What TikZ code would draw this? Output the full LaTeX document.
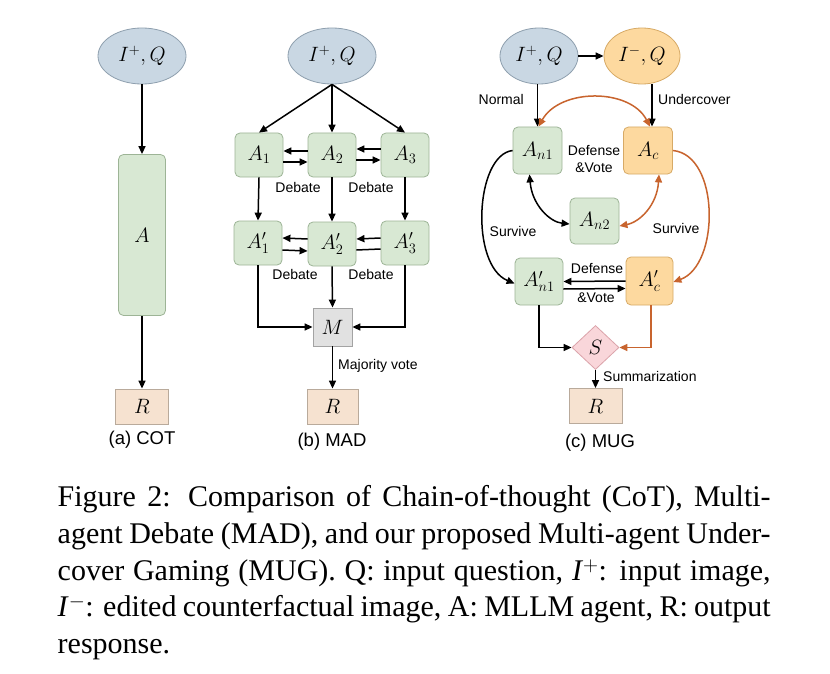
\documentclass[tikz,border=0pt]{standalone}
\usepackage{fontspec}
\setmainfont{Liberation Serif}
\setsansfont{Liberation Sans}
\usetikzlibrary{shapes.geometric,arrows.meta,calc}
\definecolor{bluefill}{HTML}{C9D7E3}
\definecolor{blueline}{HTML}{8E9FAE}
\definecolor{greenfill}{HTML}{D8E8D3}
\definecolor{greenline}{HTML}{9DB496}
\definecolor{orangefill}{HTML}{FDD99F}
\definecolor{orangeline}{HTML}{D7AA66}
\definecolor{pinkfill}{HTML}{F9D6DA}
\definecolor{pinkline}{HTML}{DBA3AA}
\definecolor{peachfill}{HTML}{F6E2D0}
\definecolor{peachline}{HTML}{B9AA9B}
\definecolor{grayfill}{HTML}{E1E1E1}
\definecolor{grayline}{HTML}{A3A3A3}
\definecolor{rust}{HTML}{C8642E}
\tikzset{
  mathfont/.style={font=\fontsize{22}{26}\selectfont},
  inell/.style={ellipse, draw=blueline, fill=bluefill, line width=0.8pt, minimum width=88pt, minimum height=56pt, inner sep=0pt, mathfont},
  undell/.style={ellipse, draw=orangeline, fill=orangefill, line width=0.8pt, minimum width=76pt, minimum height=56pt, inner sep=0pt, mathfont},
  agent/.style={rectangle, rounded corners=5pt, draw=greenline, fill=greenfill, line width=0.8pt, minimum width=48pt, minimum height=44pt, inner sep=0pt, mathfont},
  ucagent/.style={rectangle, rounded corners=5pt, draw=orangeline, fill=orangefill, line width=0.8pt, minimum width=49pt, minimum height=47pt, inner sep=0pt, mathfont},
  resp/.style={rectangle, draw=peachline, fill=peachfill, line width=0.8pt, minimum width=53pt, minimum height=35pt, inner sep=0pt, mathfont},
  majbox/.style={rectangle, draw=grayline, fill=grayfill, line width=0.8pt, minimum width=39pt, minimum height=38pt, inner sep=0pt, mathfont},
  sumdia/.style={diamond, draw=pinkline, fill=pinkfill, line width=0.8pt, minimum width=47pt, minimum height=44pt, inner sep=0pt, aspect=1.07, mathfont},
  lbl/.style={font=\sffamily\fontsize{14}{17}\selectfont, inner sep=0pt},
  sublbl/.style={font=\sffamily\fontsize{18.5}{22}\selectfont, inner sep=0pt},
  arr/.style={line width=1.5pt, -{Triangle[length=8pt,width=7pt]}},
  darr/.style={line width=1.5pt, {Triangle[length=8pt,width=7pt]}-{Triangle[length=8pt,width=7pt]}},
  plainln/.style={line width=1.5pt},
  oarr/.style={line width=1.5pt, draw=rust, -{Triangle[length=8pt,width=7pt]}, rust},
  odarr/.style={line width=1.5pt, draw=rust, {Triangle[length=8pt,width=7pt]}-{Triangle[length=8pt,width=7pt]}, rust},
}
\begin{document}
\begin{tikzpicture}[x=1pt,y=-1pt]
\useasboundingbox (0,0) rectangle (830,674);
\fill[white] (0,0) rectangle (830,674);

% ---------- (a) COT ----------
\node[inell] (e1) at (142,56) {$I^+,Q$};
\node[agent, minimum width=47pt, minimum height=161pt] (a) at (142,235) {$A$};
\node[resp] (r1) at (142,406.5) {$R$};
\draw[arr] (e1) -- (a);
\draw[arr] (a) -- (r1);
\node[sublbl] (cap1) at (142,440) {(a) COT};

% ---------- (b) MAD ----------
\node[inell] (e2) at (332,56) {$I^+,Q$};
\node[agent] (A1) at (259,155) {$A_1$};
\node[agent] (A2) at (332,155) {$A_2$};
\node[agent] (A3) at (405,155) {$A_3$};
\node[agent] (B1) at (258,243) {$A_1'$};
\node[agent] (B2) at (332,244) {$A_2'$};
\node[agent] (B3) at (405,243) {$A_3'$};
\node[majbox] (M) at (332.5,327) {$M$};
\node[resp, minimum width=51pt] (r2) at (332.5,406.5) {$R$};
\draw[arr] (e2.south) -- (A1.north);
\draw[arr] (e2.south) -- (A2.north);
\draw[arr] (e2.south) -- (A3.north);
\draw[arr] ([yshift=4pt]A2.west) -- ([yshift=4pt]A1.east);
\draw[arr] ([yshift=-7pt]A1.east) -- ([yshift=-7pt]A2.west);
\draw[arr] ([yshift=6pt]A3.west) -- ([yshift=6pt]A2.east);
\draw[arr] ([yshift=-5pt]A2.east) -- ([yshift=-5pt]A3.west);
\draw[arr] ([yshift=5pt]B2.west) -- ([yshift=5pt]B1.east);
\draw[arr] ([yshift=-7pt]B1.east) -- ([yshift=-7pt]B2.west);
\draw[arr] ([yshift=5pt]B3.west) -- ([yshift=5pt]B2.east);
\draw[plainln] ([yshift=-6pt]B2.east) -- ([yshift=-6pt]B3.west);
\draw[arr] (A1.south) -- (B1.north);
\draw[arr] (A2.south) -- (B2.north);
\draw[arr] (A3.south) -- (B3.north);
\draw[arr] (B1.south) |- (M.west);
\draw[arr] (B3.south) |- (M.east);
\draw[arr] (B2.south) -- (M.north);
\draw[arr] (M.south) -- (r2.north);
\node[lbl] (d1) at (298,187) {Debate};
\node[lbl] (d2) at (371,187) {Debate};
\node[lbl] (d3) at (295,274) {Debate};
\node[lbl] (d4) at (371,274) {Debate};
\node[lbl, anchor=west] (mv) at (338,366) {Majority vote};
\node[sublbl] (cap2) at (332,442) {(b) MAD};

% ---------- (c) MUG ----------
\node[inell, minimum width=78pt] (e3) at (539,56) {$I^+,Q$};
\node[undell] (e4) at (642,56) {$I^-,Q$};
\node[agent, minimum width=49pt, minimum height=47pt] (N1) at (537.5,150.5) {$A_{n1}$};
\node[ucagent] (C) at (648,150.5) {$A_c$};
\node[agent, minimum width=49pt, minimum height=46pt] (N2) at (594.5,221) {$A_{n2}$};
\node[agent, minimum width=48pt, minimum height=47pt] (P1) at (539,281.5) {$A_{n1}'$};
\node[ucagent, minimum width=47pt, minimum height=48pt] (PC) at (649.5,281) {$A_c'$};
\node[sumdia] (S) at (595.5,347.5) {$S$};
\node[resp] (r3) at (595.5,406) {$R$};

\draw[arr] (e3.east) -- (e4.west);
\draw[arr] (e3.south -| N1.north) -- (N1.north);
\draw[arr] ([xshift=4pt]C.north |- e4.south) -- ([xshift=4pt]C.north);
\node[lbl, anchor=east] (nl) at (524,99) {Normal};
\node[lbl, anchor=west] (ul) at (658,99) {Undercover};

\draw[odarr] ([xshift=1pt]N1.north) .. controls (560,88) and (630,88) .. ([xshift=2pt]C.north);
\node[lbl, align=center] (dv1) at (594,159.5) {Defense\\\&Vote};
\draw[darr] ([xshift=-8pt]N1.south) .. controls (532,205) and (550,222) .. ([yshift=-3pt]N2.west);
\draw[odarr] ([xshift=11pt]C.south) .. controls (657,205) and (640,222) .. ([yshift=-5pt]N2.east);
\draw[arr] (N1.west) .. controls (475,155) and (470,265) .. ([yshift=-2pt]P1.west);
\draw[oarr] (C.east) .. controls (720,155) and (720,265) .. ([yshift=-1pt]PC.east);
\node[lbl] (sv1) at (513,231) {Survive};
\node[lbl] (sv2) at (676,228) {Survive};

\draw[arr] ([yshift=0pt]PC.west) -- ([yshift=0pt]P1.east);
\draw[arr] ([yshift=-7.5pt]P1.east) -- ([yshift=-7.5pt]PC.west);
\node[lbl] (dv2) at (597,269) {Defense};
\node[lbl] (dv3) at (596,298) {\&Vote};

\draw[arr] (P1.south) |- (S.west);
\draw[oarr] ([xshift=1.5pt]PC.south) |- (S.east);
\draw[arr] (S.south) -- (r3.north);
\node[lbl, anchor=west] (sm) at (603,376) {Summarization};
\node[sublbl] (cap3) at (600,443) {(c) MUG};

% ---------- caption ----------
\node[anchor=north west, text width=713pt, align=justify, inner sep=0pt,
      font=\fontsize{30}{36.7}\selectfont] (capt) at (57.5,485.5) {%
\hyphenpenalty=10000\exhyphenpenalty=0
Figure 2: Comparison of Chain-of-thought (CoT), Multi-\linebreak
agent Debate (MAD), and our proposed Multi-agent Under-\linebreak
cover Gaming (MUG). Q: input question, \textit{I}$^{+}$: input image,\linebreak
\textit{I}$^{-}$: edited counterfactual image, A: MLLM agent, R: output\linebreak
response.};
\end{tikzpicture}
\end{document}
